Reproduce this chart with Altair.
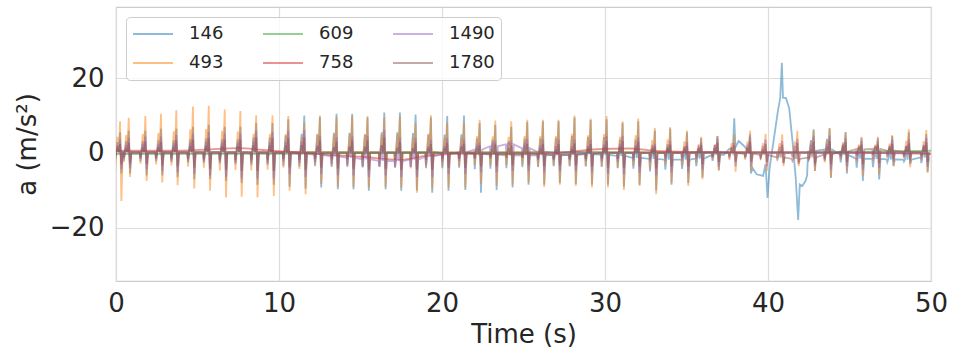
import altair as alt
import pandas as pd

# ---- beat times (s) shared by the spiky accelerometer channels ----
BEAT_T = [0.25, 0.78, 1.80, 2.76, 3.70, 4.72, 5.69, 6.67, 7.63, 8.60, 9.60,
          10.57, 11.55, 12.51, 13.53, 14.49, 15.43, 16.46, 17.42, 18.38, 19.32,
          20.32, 21.35, 22.31, 23.27, 24.25, 25.23, 26.19, 27.15, 28.13, 29.12,
          30.10, 31.08, 32.04, 33.06, 34.00, 35.03, 35.90, 36.90, 37.93, 38.90,
          39.85, 40.87, 41.80, 42.80, 43.78, 44.76, 45.74, 46.74, 47.62, 48.64, 49.71]

# ---- sensor 493 (orange) ----
S493_HI = [8.5, 9.4, 9.9, 10.5, 11.4, 12.4, 12.6, 11.6, 11.2, 10.1, 10.1,
           9.9, 8.1, 10.0, 9.6, 9.9, 9.9, 9.5, 9.9, 8.1, 10.1,
           8.1, 8.1, 8.9, 8.7, 8.5, 8.9, 8.9, 8.9, 10.0, 9.2,
           9.9, 8.5, 9.2, 6.7, 6.9, 6.0, 4.3, 4.5, 5.0, 5.9,
           5.1, 5.0, 5.9, 5.9, 6.6, 5.6, 4.3, 4.3, 4.8, 6.3, 6.1]
S493_LO = [-12.8, -6.4, -7.5, -7.9, -8.6, -9.5, -10.1, -11.9, -11.7, -11.9, -11.5,
           -10.1, -11.0, -8.3, -9.0, -9.0, -9.3, -9.0, -9.3, -10.6, -9.6,
           -9.2, -9.2, -8.3, -8.8, -8.5, -7.9, -9.1, -8.5, -8.8, -9.2,
           -9.2, -9.9, -8.8, -11.0, -8.0, -8.8, -7.0, -4.8, -5.0, -4.8,
           -4.8, -3.5, -3.5, -4.8, -6.6, -4.8, -6.1, -5.7, -3.5, -3.8, -5.3]
S493_BASE = [0.2] * len(BEAT_T)

# ---- sensor 146 (blue); None = no regular beat (see event trace) ----
S146_HI = [5.5, 6.0, 6.0, 6.5, 6.5, 7.0, 7.5, 7.0, 7.0, 8.0, 8.0,
           9.0, 10.0, 9.6, 10.5, 10.5, 9.5, 10.8, 10.8, 10.3, 9.5,
           9.9, 10.0, 8.0, 7.5, 7.0, 8.3, 8.5, 8.5, 9.5, 8.8,
           9.0, 8.0, 8.5, 6.0, 6.5, 5.5, 4.0, 4.5, None, None,
           None, None, None, 6.3, 6.6, 5.5, 4.0, 4.0, 4.5, 5.5, 5.0]
S146_LO = [-5.5, -5.5, -6.0, -6.0, -6.5, -7.0, -7.0, -7.5, -8.0, -8.5, -8.5,
           -9.0, -9.5, -9.2, -9.7, -9.7, -10.1, -9.7, -10.1, -10.0, -10.6,
           -10.1, -9.9, -10.6, -9.9, -9.2, -8.5, -8.5, -8.0, -8.3, -8.5,
           -8.5, -9.0, -8.5, -10.0, -8.5, -8.0, -6.5, -4.5, None, None,
           None, None, None, -4.8, -6.6, -5.5, -7.5, -7.1, -3.5, -3.0, -5.0]
S146_BASE = [0.3, 0.3, 0.3, 0.3, 0.3, 0.3, 0.3, 0.3, 0.3, 0.3, 0.3,
             0.3, 0.3, 0.3, 0.3, 0.3, 0.3, 0.3, 0.3, 0.3, 0.3,
             0.0, 0.0, -0.2, -0.4, -0.6, -0.6, -0.6, -0.5, -0.4, -0.3,
             -0.5, -0.8, -1.3, -1.6, -1.8, -1.8, -1.5, -0.5, None, None,
             None, None, None, 0.6, 0.9, -0.5, -1.5, -1.6, -1.7, -1.8, -1.2]
# sensor 146 transient between 37 s and 42.5 s
S146_EVENT_T = [37.30, 37.60, 37.85, 37.93, 38.00, 38.20, 38.50, 38.80, 38.90, 38.95,
                39.05, 39.30, 39.70, 39.85, 39.97, 40.10, 40.40, 40.60, 40.75, 40.85,
                40.92, 41.10, 41.30, 41.50, 41.70, 41.85, 41.95, 42.10, 42.30, 42.40]
S146_EVENT_A = [-0.5, 1.0, 1.5, 9.3, 1.5, 3.2, 2.0, 0.5, 5.0, -5.5,
                -4.0, -5.7, -6.1, -3.0, -12.0, -4.0, 5.0, 11.0, 14.7, 24.1,
                14.7, 14.7, 12.0, 3.2, -6.6, -17.9, -8.4, -8.8, -7.5, -6.0]

# ---- sensor 1490 (purple) ----
S1490_HI = [3.6, 4.0, 4.4, 4.4, 4.8, 5.2, 5.6, 5.2, 5.2, 6.0, 5.6,
            5.8, 6.1, 4.6, 4.2, 4.6, 4.6, 6.1, 4.2, 3.9, 3.5,
            3.9, 3.6, 2.8, 3.2, 2.8, 3.6, 3.6, 3.6, 3.6, 3.6,
            4.6, 4.6, 4.2, 2.5, 3.2, 2.9, 2.8, 3.9, 2.8, 4.4,
            3.6, 3.2, 3.8, 4.4, 4.6, 4.0, 3.2, 3.2, 3.6, 3.6, 4.0]
S1490_LO = [-4.4, -4.0, -4.4, -4.8, -5.2, -5.6, -6.0, -6.4, -6.8, -6.8, -6.8,
            -5.6, -6.4, -5.6, -6.0, -6.0, -6.4, -6.0, -6.4, -6.4, -6.4,
            -5.6, -5.6, -5.2, -5.2, -4.8, -4.8, -5.2, -4.8, -4.8, -5.2,
            -5.6, -5.6, -5.2, -6.0, -5.2, -5.2, -4.4, -3.6, -3.6, -3.6,
            -3.6, -2.8, -2.4, -3.6, -4.4, -3.6, -4.4, -4.0, -2.4, -2.4, -3.6]
S1490_BASE = [0.3, 0.3, 0.3, 0.3, 0.3, 0.3, 0.3, 0.3, 0.3, 0.2, 0.1,
              0.0, -0.2, -0.5, -0.9, -1.3, -1.7, -2.1, -2.2, -1.8, -1.0,
              -0.3, 0.2, 0.9, 1.8, 2.3, 1.3, 0.3, 0.0, 0.0, 0.0,
              0.0, 0.0, 0.0, 0.0, 0.0, 0.0, 0.2, 0.3, 0.0, 0.0,
              0.0, 0.0, 0.0, 0.0, 0.0, 0.0, 0.0, 0.0, 0.0, 0.0, 0.0]

# ---- sensor 1780 (brown) ----
S1780_HI = [2.4, 2.7, 3.0, 3.0, 3.3, 3.6, 3.9, 3.6, 3.6, 4.2, 3.9,
            3.9, 4.2, 3.3, 3.0, 3.3, 3.3, 4.2, 3.0, 2.7, 2.4,
            2.7, 2.4, 2.0, 2.3, 2.0, 2.4, 2.4, 2.4, 2.5, 2.4,
            3.2, 3.2, 3.0, 1.8, 2.2, 2.0, 2.1, 2.7, 2.0, 3.0,
            2.4, 2.2, 2.7, 3.0, 3.2, 2.8, 2.2, 2.2, 2.4, 2.5, 2.8]
S1780_LO = [-3.0, -2.7, -3.0, -3.3, -3.6, -3.9, -4.2, -4.5, -4.8, -4.8, -4.8,
            -3.9, -4.5, -3.9, -4.2, -4.2, -4.5, -4.2, -4.5, -4.5, -4.5,
            -3.9, -3.9, -3.6, -3.6, -3.3, -3.3, -3.6, -3.3, -3.3, -3.6,
            -3.9, -3.9, -3.6, -4.2, -3.6, -3.6, -3.0, -2.4, -2.4, -2.4,
            -2.4, -2.6, -2.9, -2.8, -3.0, -2.4, -3.0, -2.7, -1.7, -1.7, -2.4]
S1780_BASE = [0.0, 0.0, 0.0, 0.0, 0.0, 0.0, 0.0, 0.0, 0.0, 0.0, 0.0,
              0.0, 0.0, 0.0, 0.0, 0.0, 0.0, 0.0, 0.0, 0.0, 0.0,
              0.0, 0.0, 0.0, 0.0, 0.0, 0.0, -0.3, -0.6, -0.5, -0.2,
              0.0, 0.0, 0.0, 0.0, 0.0, 0.0, 0.0, 0.0, 0.0, -0.2,
              -0.5, -1.2, -1.6, -1.2, -0.4, 0.4, 1.0, 1.1, 0.6, 0.3, 0.2]

# ---- slowly varying channels ----
S609_T = [0, 10, 20, 30, 40, 50]
S609_A = [-0.3, -0.2, 0.1, 0.2, 0.1, 0.6]
S758_T = [0, 3, 5.5, 7.5, 9, 11, 13, 15, 17.5, 19, 21, 24, 27, 29.5, 31.5, 33, 35, 40, 45, 50]
S758_A = [0.6, 0.6, 0.9, 1.3, 0.8, 0.2, -0.5, -1.0, -1.8, -0.8, -0.2, -0.3, 0.0, 1.0, 1.2, 0.6, 0.3, 0.2, 0.1, -0.2]

SERIES = ["146", "493", "609", "758", "1490", "1780"]
COLORS = ["#1f77b4", "#ff7f0e", "#2ca02c", "#d62728", "#9467bd", "#8c564b"]

# one beat: small dip, small rise, main peak, main trough
BEAT_DT = [-0.34, -0.30, -0.24, -0.16, -0.08, 0.0, 0.08, 0.16]


def beat_rows(name, hi, lo, base):
    rows = []
    for t, h, l, b in zip(BEAT_T, hi, lo, base):
        if h is None:
            continue
        vals = [b, b + 0.4 * (l - b), b, b + 0.5 * (h - b), b, h, l, b]
        rows += [(name, t + dt, v) for dt, v in zip(BEAT_DT, vals)]
    return rows


rows = {
    "146": beat_rows("146", S146_HI, S146_LO, S146_BASE)
    + [("146", t, v) for t, v in zip(S146_EVENT_T, S146_EVENT_A)],
    "493": beat_rows("493", S493_HI, S493_LO, S493_BASE),
    "609": [("609", t, v) for t, v in zip(S609_T, S609_A)],
    "758": [("758", t, v) for t, v in zip(S758_T, S758_A)],
    "1490": beat_rows("1490", S1490_HI, S1490_LO, S1490_BASE),
    "1780": beat_rows("1780", S1780_HI, S1780_LO, S1780_BASE),
}

color_scale = alt.Scale(domain=SERIES, range=COLORS)
x_enc = alt.X("t:Q", title="Time (s)",
              scale=alt.Scale(domain=[0, 50], nice=False, zero=False),
              axis=alt.Axis(values=[0, 10, 20, 30, 40, 50], labelPadding=9,
                            titlePadding=5, labelFlush=False))
y_enc = alt.Y("a:Q", title="a (m/s²)",
              scale=alt.Scale(domain=[-34.2, 39.0], nice=False, zero=False),
              axis=alt.Axis(values=[-20, 0, 20], labelPadding=12, titlePadding=9,
                            labelFlush=False))
legend = alt.Legend(
    title=None, orient="top-left", columns=3, offset=10,
    symbolType="stroke", symbolSize=1600, symbolStrokeWidth=2,
    symbolOpacity=0.5, labelFontSize=18, labelOffset=15,
    columnPadding=38, rowPadding=7, clipHeight=22, padding=6,
    cornerRadius=4, strokeColor="#cccccc",
    fillColor="rgba(255,255,255,0.8)")

layers = []
for s in SERIES:
    df = pd.DataFrame(sorted(rows[s], key=lambda r: r[1]), columns=["series", "t", "a"])
    smooth = s in ("609", "758")
    layers.append(
        alt.Chart(df).mark_line(
            strokeWidth=1.8, opacity=0.5, clip=True,
            interpolate="monotone" if smooth else "linear",
        ).encode(
            x=x_enc, y=y_enc,
            color=alt.Color("series:N", scale=color_scale, legend=legend),
        )
    )

chart = alt.layer(*layers).properties(
    width=815, height=274,
    padding={"left": 116, "top": 7, "right": 23, "bottom": 73},
    autosize=alt.AutoSizeParams(type="none"),
    background="white",
).configure_view(
    stroke="#cccccc", strokeWidth=1.2
).configure_axis(
    grid=True, gridColor="#dddddd", gridWidth=1.2, domain=False, ticks=False,
    labelFont="DejaVu Sans", titleFont="DejaVu Sans",
    labelFontSize=26, titleFontSize=26, titleFontWeight="normal",
    labelColor="#262626", titleColor="#262626",
).configure_legend(
    labelFont="DejaVu Sans", labelColor="#262626"
)

chart.save("out.html", embed_options={"renderer": "svg", "actions": False})
